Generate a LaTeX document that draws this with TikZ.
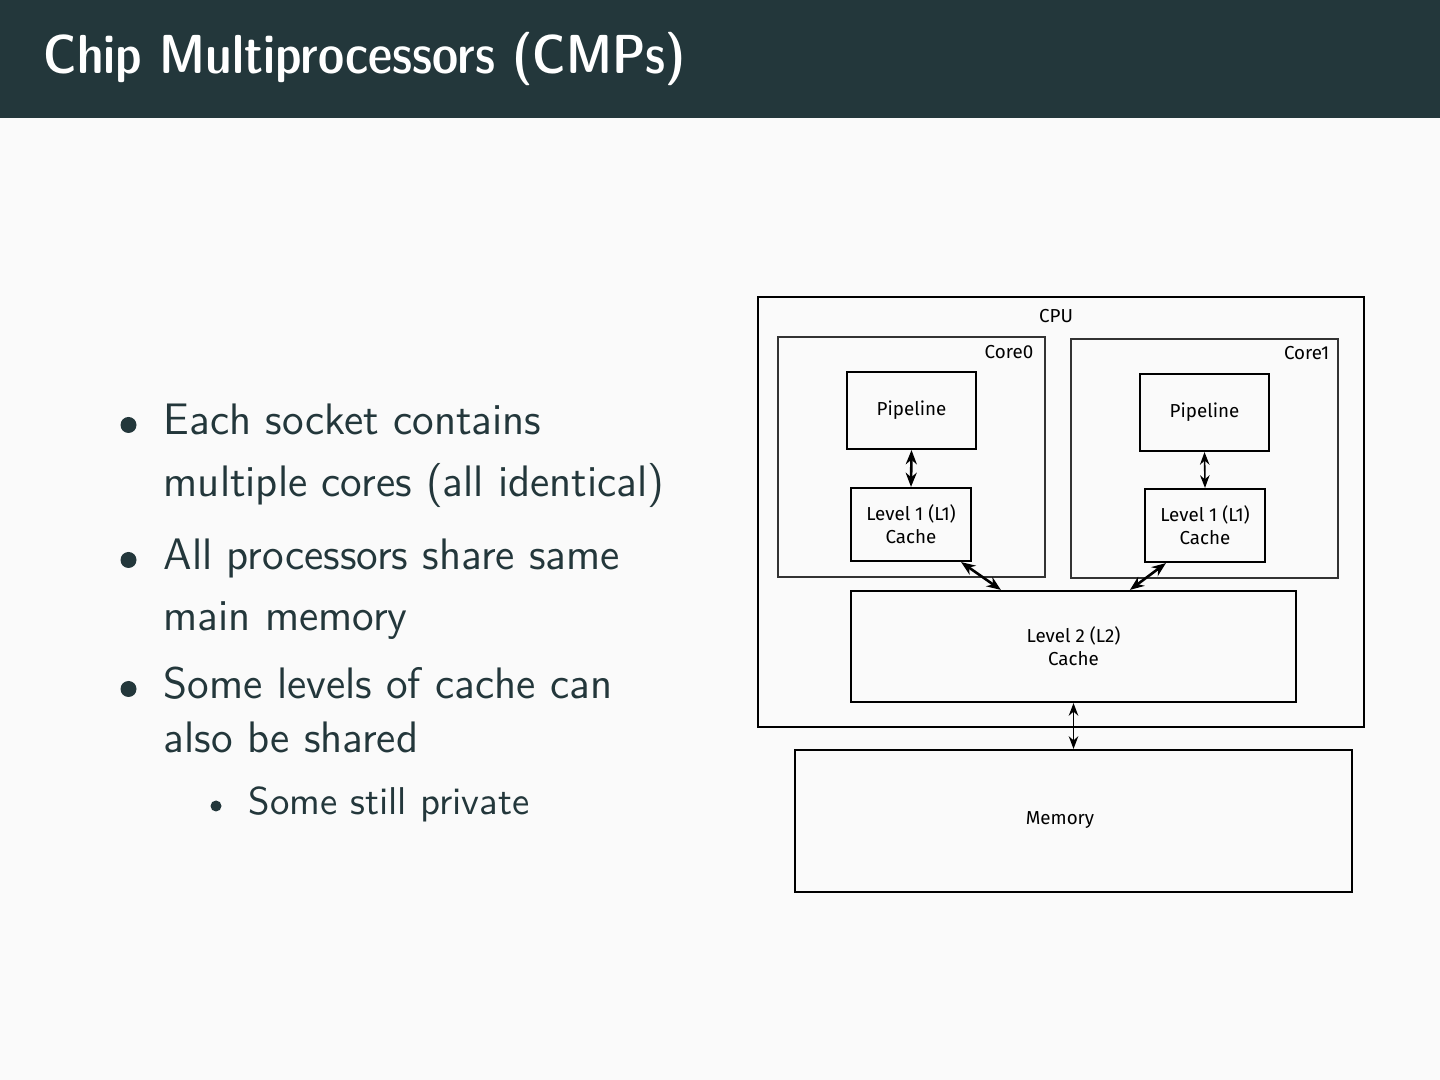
\documentclass[tikz,border=0pt]{standalone}
\usepackage{fontspec}
\newfontfamily\firafont{Fira Sans}
\usetikzlibrary{arrows.meta,calc}
\newlength\pxl
\setlength{\pxl}{0.08889mm}
\definecolor{mdark}{HTML}{23373B}
\definecolor{mbg}{HTML}{FAFAFA}
\definecolor{coregray}{HTML}{333333}
\tikzset{
  box/.style={draw=black, line width=0.55pt, inner sep=0pt, align=center,
    font=\firafont\fontsize{4.75}{5.8}\selectfont},
  corebox/.style={draw=coregray, line width=0.3pt, inner sep=0pt},
  lbl/.style={inner sep=0pt, font=\firafont\fontsize{4.75}{5.8}\selectfont},
  link/.style={line width=0.65pt, {Stealth[length=3.6pt,width=2.8pt]}-{Stealth[length=3.6pt,width=2.8pt]}},
  thinlink/.style={line width=0.4pt, {Stealth[length=3.2pt,width=2.4pt]}-{Stealth[length=3.2pt,width=2.4pt]}},
  body/.style={anchor=base west, inner sep=0pt, text=mdark,
    font=\sffamily\fontsize{11.15}{13}\selectfont},
  subbody/.style={anchor=base west, inner sep=0pt, text=mdark,
    font=\sffamily\fontsize{9.8}{11}\selectfont},
  bulletdot/.style={circle, fill=mdark, draw=none, inner sep=0pt, minimum size=16\pxl},
  subdot/.style={circle, fill=mdark, draw=none, inner sep=0pt, minimum size=11\pxl}
}
\begin{document}
\begin{tikzpicture}[x=\pxl, y=-\pxl]
\useasboundingbox (0,0) rectangle (1440,1080);
\fill[mbg] (0,0) rectangle (1440,1080);
\fill[mdark] (0,0) rectangle (1440,118);
\node[anchor=base west, inner sep=0pt, text=white,
  font=\sffamily\fontseries{sbc}\fontsize{13.9}{16}\selectfont] (title) at (43,74) {Chip Multiprocessors (CMPs)};

% bullets
\node[bulletdot] (b1) at (128.5,425) {};
\node[body] (t1a) at (163,435) {Each socket contains};
\node[body] (t1b) at (163,497) {multiple cores (all identical)};
\node[bulletdot] (b2) at (128.5,560) {};
\node[body] (t2a) at (163,570) {All processors share same};
\node[body] (t2b) at (163,631) {main memory};
\node[bulletdot] (b3) at (128.5,689) {};
\node[body] (t3a) at (163,699) {Some levels of cache can};
\node[body] (t3b) at (163,752) {also be shared};
\node[subdot] (b4) at (216,806) {};
\node[subbody] (t4) at (248,815) {Some still private};

% diagram
\node[box, minimum width=606\pxl, minimum height=430\pxl] (cpu) at (1061,512) {};
\node[lbl] (cpulbl) at (1056,316) {CPU};
\node[corebox, minimum width=267\pxl, minimum height=240\pxl] (core0) at (911.5,457) {};
\node[lbl, anchor=east] (core0lbl) at (1034,352) {Core0};
\node[corebox, minimum width=267\pxl, minimum height=239\pxl] (core1) at (1204.5,458.5) {};
\node[lbl, anchor=east] (core1lbl) at (1330,353) {Core1};

\node[box, minimum width=129\pxl, minimum height=77\pxl] (p0) at (911.5,410.5) {Pipeline};
\node[box, minimum width=120\pxl, minimum height=73\pxl] (l10) at (911,524.5) {Level 1 (L1)\\Cache};
\node[box, minimum width=129\pxl, minimum height=77\pxl] (p1) at (1204.5,412.5) {Pipeline};
\node[box, minimum width=120\pxl, minimum height=73\pxl] (l11) at (1205,525.5) {Level 1 (L1)\\Cache};

\node[box, minimum width=445\pxl, minimum height=111\pxl] (l2) at (1073.5,646.5) {Level 2 (L2)\\Cache};
\node[box, minimum width=557\pxl, minimum height=142\pxl] (mem) at (1073.5,821) {};
\node[lbl, anchor=base] (memlbl) at (1060,825) {Memory};

\draw[link] (p0.south) -- (l10.north);
\draw[thinlink] (p1.south) -- (l11.north);
\draw[link] ($(l10.south east)+(-11,0)$) -- ($(l2.north west)+(151,0)$);
\draw[link] ($(l11.south west)+(22,0)$) -- ($(l2.north west)+(280,0)$);
\draw[thinlink] (l2.south) -- (mem.north);
\end{tikzpicture}
\end{document}
